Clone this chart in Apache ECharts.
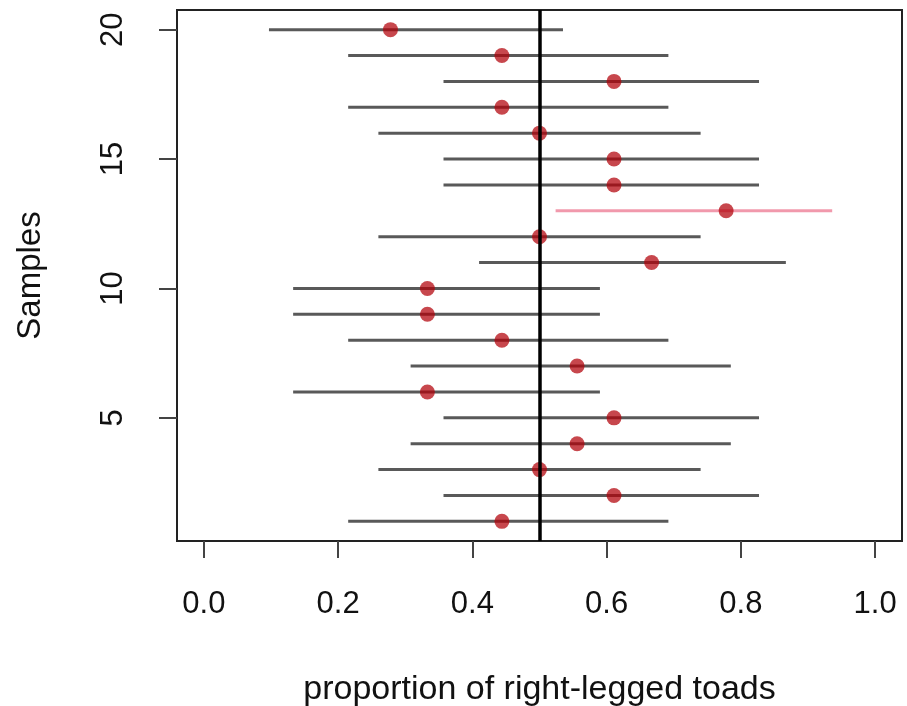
<!DOCTYPE html>
<html>
<head>
<meta charset="utf-8">
<script src="https://cdn.jsdelivr.net/npm/echarts@6/dist/echarts.min.js"></script>
<style>
html,body{margin:0;padding:0;background:#fff;}
#chart{width:907px;height:706px;}
</style>
</head>
<body>
<div id="chart"></div>
<script>
// Sample numbers (y positions)
var samples = [1,2,3,4,5,6,7,8,9,10,11,12,13,14,15,16,17,18,19,20];
// Sample proportions of right-legged toads
var proportions = [0.444,0.611,0.500,0.556,0.611,0.333,0.556,0.444,0.333,0.333,0.667,0.500,0.778,0.611,0.611,0.500,0.444,0.611,0.444,0.278];
// Lower and upper ends of each interval
var lowerCI = [0.215,0.357,0.260,0.308,0.357,0.133,0.308,0.215,0.133,0.133,0.410,0.260,0.524,0.357,0.357,0.260,0.215,0.357,0.215,0.097];
var upperCI = [0.692,0.827,0.740,0.785,0.827,0.590,0.785,0.692,0.590,0.590,0.867,0.740,0.936,0.827,0.827,0.740,0.692,0.827,0.692,0.535];
// Reference value
var nullValue = 0.5;
// Tick labels
var xTicks = [0, 0.2, 0.4, 0.6, 0.8, 1.0];
var yTicks = [5, 10, 15, 20];

var FONT = '"Liberation Sans", Arial, Helvetica, sans-serif';

var ciData = samples.map(function (s, i) { return [lowerCI[i], upperCI[i], s]; });
var ptData = samples.map(function (s, i) { return [proportions[i], s]; });

var chart = echarts.init(document.getElementById('chart'), null, {renderer: 'canvas'});
chart.setOption({
  animation: false,
  backgroundColor: '#ffffff',
  grid: {
    left: 177, right: 5, top: 10, bottom: 165,
    outerBoundsMode: 'none',
    containLabel: false,
    show: true, borderColor: '#222', borderWidth: 2, backgroundColor: 'transparent'
  },
  xAxis: {
    type: 'value', min: -0.04, max: 1.04,
    name: 'proportion of right-legged toads',
    nameLocation: 'middle', nameGap: 132,
    nameTextStyle: {fontFamily: FONT, fontSize: 34, color: '#111'},
    axisLine: {show: false, onZero: false},
    splitLine: {show: false},
    axisTick: {show: true, length: 17, inside: false, customValues: xTicks,
               lineStyle: {color: '#444', width: 2}},
    axisLabel: {show: true, margin: 48, customValues: xTicks,
                fontFamily: FONT, fontSize: 31, color: '#111',
                formatter: function (v) { return v.toFixed(1); }}
  },
  yAxis: {
    type: 'value', min: 0.24, max: 20.76,
    name: 'Samples',
    nameLocation: 'middle', nameGap: 130,
    nameTextStyle: {fontFamily: FONT, fontSize: 33, color: '#111'},
    axisLine: {show: false, onZero: false},
    splitLine: {show: false},
    axisTick: {show: true, length: 18, inside: false, customValues: yTicks,
               lineStyle: {color: '#444', width: 2}},
    axisLabel: {show: true, margin: 48, rotate: 90, customValues: yTicks,
                fontFamily: FONT, fontSize: 31, color: '#111'}
  },
  series: [
    {
      type: 'custom',
      z: 2,
      data: ciData,
      renderItem: function (params, api) {
        var lo = api.value(0), hi = api.value(1), y = api.value(2);
        var p1 = api.coord([lo, y]);
        var p2 = api.coord([hi, y]);
        var miss = lo > nullValue || hi < nullValue;
        return {
          type: 'line',
          shape: {x1: p1[0], y1: p1[1], x2: p2[0], y2: p2[1]},
          style: {stroke: miss ? 'rgba(238,135,158,0.85)' : 'rgba(60,60,60,0.85)', lineWidth: 3}
        };
      },
      markLine: {
        silent: true,
        symbol: ['none', 'none'],
        label: {show: false},
        lineStyle: {color: '#000', width: 3.5, type: 'solid'},
        data: [{xAxis: nullValue}]
      }
    },
    {
      type: 'scatter',
      z: 3,
      data: ptData,
      symbol: 'circle',
      symbolSize: 15,
      itemStyle: {color: 'rgba(178,0,8,0.9)'}
    }
  ]
});
</script>
</body>
</html>
